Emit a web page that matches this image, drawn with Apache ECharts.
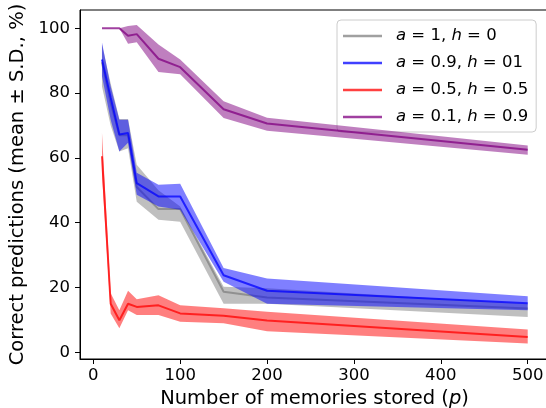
<!DOCTYPE html>
<html><head><meta charset="utf-8">
<script src="https://cdn.jsdelivr.net/npm/echarts@6/dist/echarts.min.js"></script>
<style>html,body{margin:0;padding:0;background:#fff}#c{width:546px;height:408px}</style>
</head><body><div id="c"></div>
<script>
const pVals = [10, 20, 30, 40, 50, 75, 100, 150, 200, 500];
const xTicks = [0, 100, 200, 300, 400, 500];
const yTicks = [0, 20, 40, 60, 80, 100];

const grayMean  = [89.5, 77, 67, 67, 51, 44.2, 44.2, 18.7, 16.9, 13.5];
const grayUpper = [95, 83, 72, 72, 57.9, 50, 45, 20.2, 19.8, 15];
const grayLower = [82, 70, 62, 63, 46.5, 40.9, 40.3, 15, 15, 10.9];

const blueMean  = [90.4, 78.6, 67.2, 67.7, 52.2, 48.1, 48.1, 23.8, 19, 15.1];
const blueUpper = [95.6, 82, 71.8, 71.8, 55.4, 51.7, 52, 26, 22.8, 17.3];
const blueLower = [85.2, 71.8, 62, 64.7, 48.6, 45, 44, 21.8, 15, 13];

const redMean  = [60.5, 15, 9.9, 15, 14, 14.5, 12, 11.3, 9.8, 4.7];
const redUpper = [67.7, 18.2, 13, 19, 16.4, 17.6, 14.5, 13.6, 12.5, 7];
const redLower = [55, 12, 7.4, 13, 11.5, 11.5, 9.4, 9, 6.5, 2.7];

const purpleMean  = [100, 100, 100, 97.7, 98.2, 90.6, 88, 75, 70.6, 62.5];
const purpleUpper = [100, 100, 100, 100.7, 101, 95, 90.4, 77.5, 72.4, 63.8];
const purpleLower = [100, 100, 100, 95.2, 95.7, 86.5, 85.8, 72.3, 68.4, 61];

const seriesNames = ['g1', 'g2', 'g3', 'g4'];
const seriesLabels = [
  '{i|a} = 1, {i|h} = 0',
  '{i|a} = 0.9, {i|h} = 01',
  '{i|a} = 0.5, {i|h} = 0.5',
  '{i|a} = 0.1, {i|h} = 0.9'
];
const colors = ['#808080', '#0000ff', '#ff0000', '#800080'];
const groups = [
  [grayMean, grayUpper, grayLower],
  [blueMean, blueUpper, blueLower],
  [redMean, redUpper, redLower],
  [purpleMean, purpleUpper, purpleLower]
];

function pairs(ys) { return pVals.map((p, i) => [p, ys[i]]); }

const series = [];
groups.forEach((g, k) => {
  const [m, u, l] = g;
  series.push({
    type: 'custom', silent: true, clip: true, z: 2 + k * 2,
    data: pVals.map((p, i) => [p, l[i], u[i]]),
    encode: { x: 0, y: [1, 2] },
    renderItem: (params, api) => {
      if (params.dataIndex !== 0) return null;
      const up = pVals.map((p, i) => api.coord([p, u[i]]));
      const lo = pVals.map((p, i) => api.coord([p, l[i]])).reverse();
      return {
        type: 'polygon',
        shape: { points: up.concat(lo) },
        style: { fill: colors[k], opacity: 0.5, stroke: null }
      };
    }
  });
  series.push({
    type: 'line', name: seriesNames[k], data: pairs(m), symbol: 'none', silent: true,
    lineStyle: { color: colors[k], width: 2, opacity: 0.75 },
    itemStyle: { color: colors[k] }, z: 3 + k * 2
  });
});

const FONT = 'DejaVu Sans';
const FS = 16.5;
const TFS = 19.5;
const chart = echarts.init(document.getElementById('c'), null, { renderer: 'canvas' });
chart.setOption({
  animation: false,
  backgroundColor: '#fff',
  grid: { left: 80, top: 10, width: 469, height: 349, show: true, borderColor: '#000', borderWidth: 1,
    backgroundColor: 'transparent', containLabel: false, outerBoundsMode: 'none' },
  xAxis: {
    type: 'value', min: -15.3, max: 524.5,
    name: 'Number of memories stored ({i|p})', nameLocation: 'middle', nameGap: 29,
    nameTextStyle: { fontFamily: FONT, fontSize: TFS, color: '#000',
      rich: { i: { fontFamily: FONT, fontStyle: 'italic', fontSize: TFS, color: '#000' } } },
    axisLine: { show: true, onZero: false, lineStyle: { color: '#000', width: 1 } },
    axisTick: { show: true, customValues: xTicks, length: 5, lineStyle: { color: '#000', width: 1 } },
    axisLabel: { customValues: xTicks, fontFamily: FONT, fontSize: FS, color: '#000', margin: 8 },
    splitLine: { show: false }
  },
  yAxis: {
    type: 'value', min: -2.07, max: 105.65,
    name: 'Correct predictions (mean ± S.D., %)', nameLocation: 'middle', nameGap: 47,
    nameTextStyle: { fontFamily: FONT, fontSize: TFS, color: '#000' },
    axisLine: { show: true, onZero: false, lineStyle: { color: '#000', width: 1 } },
    axisTick: { show: true, customValues: yTicks, length: 5, lineStyle: { color: '#000', width: 1 } },
    axisLabel: { customValues: yTicks, fontFamily: FONT, fontSize: FS, color: '#000', margin: 10 },
    splitLine: { show: false }
  },
  legend: {
    orient: 'vertical', left: 337, top: 20,
    padding: [6, 8, 5, 6], itemWidth: 39, itemHeight: 2.5, itemGap: 7, icon: 'rect',
    backgroundColor: 'rgba(255,255,255,0.8)', borderColor: '#cccccc', borderWidth: 1, borderRadius: 4,
    textStyle: { fontFamily: FONT, fontSize: FS, color: '#000', lineHeight: 20, padding: [0, 0, 0, 9],
      rich: { i: { fontFamily: FONT, fontStyle: 'italic', fontSize: FS, color: '#000', lineHeight: 20 } } },
    formatter: n => seriesLabels[seriesNames.indexOf(n)],
    data: seriesNames.map((n, k) => ({ name: n, itemStyle: { color: colors[k], opacity: 0.75 } }))
  },
  series: series
});
</script></body></html>
